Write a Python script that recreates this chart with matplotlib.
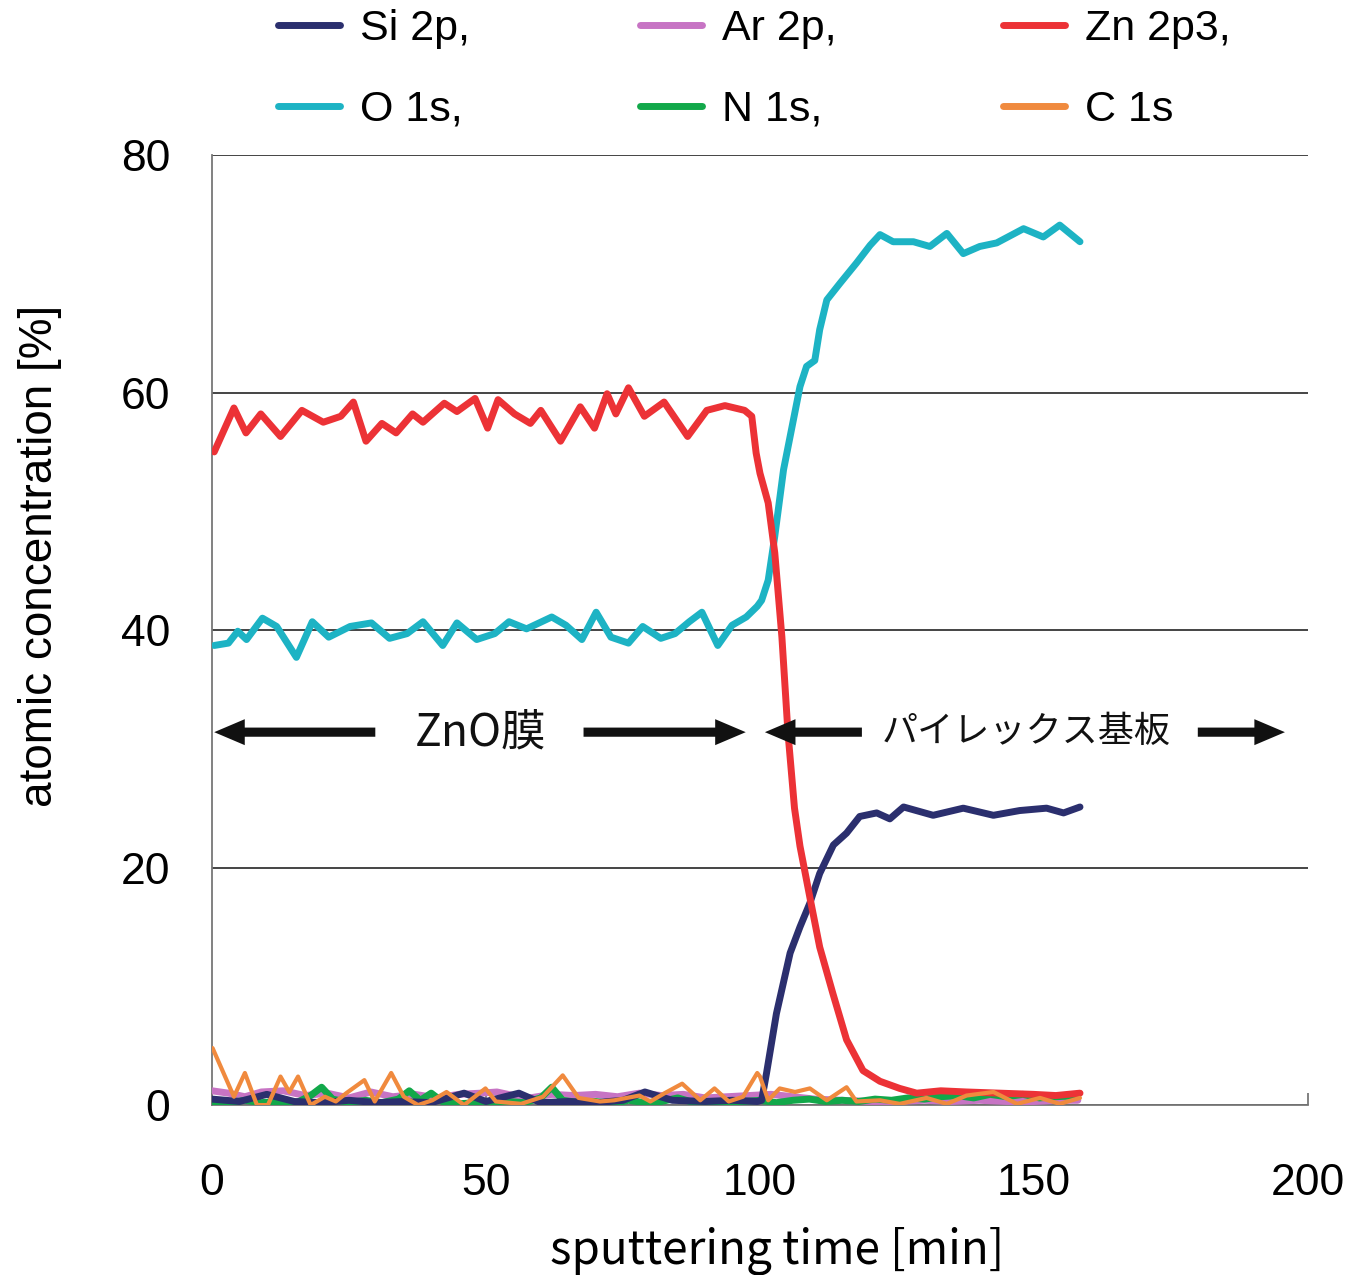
import matplotlib as mpl
mpl.use('Agg')
from matplotlib import pyplot as plt

# --- データ ---
# Zn 2p3
zn_t = [0.4, 4.0, 6.2, 8.9, 12.5, 16.4, 20.3, 23.5, 25.8, 28.1, 31.0, 33.6, 36.6, 38.5,
        42.4, 44.7, 48.0, 50.3, 52.2, 55.2, 58.1, 60.0, 63.6, 67.2, 69.8, 72.1, 73.7,
        76.0, 78.9, 82.5, 86.8, 90.3, 93.6, 97.2, 98.5, 99.3, 100.0, 101.5, 102.7, 104.0,
        105.1, 106.3, 107.3, 109.1, 110.9, 113.3, 115.8, 118.8, 121.9, 125.5, 128.6,
        133.0, 137.7, 143.8, 149.9, 154.0, 158.4]
zn_v = [55.0, 58.7, 56.6, 58.2, 56.3, 58.5, 57.5, 58.0, 59.2, 55.9, 57.4, 56.6, 58.2, 57.5,
        59.1, 58.4, 59.5, 57.0, 59.4, 58.2, 57.4, 58.5, 55.9, 58.8, 57.0, 59.9, 58.2,
        60.4, 58.0, 59.2, 56.3, 58.5, 58.9, 58.5, 58.0, 54.9, 53.2, 50.7, 46.5, 39.4,
        31.4, 25.0, 21.8, 17.5, 13.3, 9.4, 5.5, 2.9, 2.0, 1.4, 1.0,
        1.2, 1.1, 1.0, 0.9, 0.8, 1.0]

# O 1s
o_t = [0.4, 3.0, 4.7, 6.3, 9.2, 11.8, 15.4, 18.3, 21.3, 25.2, 29.1, 32.4, 35.6, 38.5,
       42.1, 44.7, 48.3, 51.6, 54.2, 57.4, 62.0, 64.6, 67.5, 70.1, 72.8, 76.0, 78.6,
       81.9, 84.5, 87.1, 89.4, 92.3, 94.9, 97.5, 99.5, 100.3, 101.5, 102.7, 104.3,
       106.1, 107.3, 108.5, 110.0, 110.9, 112.2, 114.6, 117.6, 120.1, 121.9, 124.3,
       128.0, 131.0, 134.1, 137.1, 140.1, 143.2, 148.1, 151.7, 154.7, 158.4]
o_v = [38.7, 38.9, 39.9, 39.2, 41.0, 40.3, 37.7, 40.7, 39.4, 40.3, 40.6, 39.3, 39.7, 40.7,
       38.7, 40.6, 39.2, 39.7, 40.7, 40.1, 41.1, 40.4, 39.2, 41.5, 39.4, 38.9, 40.3,
       39.3, 39.7, 40.7, 41.5, 38.7, 40.4, 41.1, 42.0, 42.5, 44.2, 47.9, 53.5,
       57.7, 60.5, 62.2, 62.7, 65.3, 67.8, 69.2, 70.9, 72.4, 73.3, 72.7,
       72.7, 72.3, 73.4, 71.7, 72.3, 72.6, 73.8, 73.1, 74.1, 72.7]

# Si 2p
si_t = [0, 5, 10, 15, 20, 25, 30, 35, 40, 46, 50, 56, 60, 65, 70, 75, 79, 84, 90, 95, 99.5,
        100.3, 101.2, 103.0, 105.5, 107.3, 109.1, 110.9, 113.4, 115.8, 118.2, 121.3,
        123.7, 126.2, 131.6, 137.1, 142.6, 147.4, 152.3, 155.4, 158.4]
si_v = [0.5, 0.3, 0.9, 0.3, 0.2, 0.4, 0.2, 0.3, 0.2, 1.0, 0.3, 1.0, 0.2, 0.3, 0.2, 0.4, 1.1,
        0.4, 0.3, 0.4, 0.3,
        0.4, 2.7, 7.7, 12.8, 15.0, 17.0, 19.5, 21.9, 22.9, 24.3, 24.6,
        24.1, 25.1, 24.4, 25.0, 24.4, 24.8, 25.0, 24.6, 25.1]

# Ar 2p
ar_t = [0, 3, 6, 9, 13, 17, 21, 25, 29, 33, 37, 41, 45, 49, 52, 55, 58, 62, 66, 70, 74, 78,
        82, 86, 90, 94, 98, 102, 106, 110, 115, 120, 125, 130, 135, 140, 145, 150, 155, 158]
ar_v = [1.2, 1.0, 0.7, 1.1, 1.2, 0.8, 1.0, 0.6, 1.1, 0.7, 0.9, 0.6, 0.9, 1.0, 1.1, 0.8, 0.6,
        0.9, 0.8, 0.9, 0.7, 1.0, 0.8, 0.9, 0.6, 0.7, 0.8, 0.9, 0.7, 0.5, 0.4, 0.3, 0.3, 0.4,
        0.3, 0.4, 0.3, 0.3, 0.4, 0.4]

# N 1s
n_t = [0, 3, 6, 9, 12, 15, 18, 20, 22, 25, 28, 31, 34, 36, 38, 40, 42, 45, 48, 51, 54, 57,
       60, 62, 64, 67, 70, 73, 76, 79, 82, 85, 88, 91, 94, 97, 100, 103, 106, 109, 112,
       115, 118, 121, 124, 127, 130, 133, 136, 139, 142, 145, 148, 151, 154, 158]
n_v = [0.3, 0.2, 0.4, 0.2, 0.3, 0.1, 0.8, 1.5, 0.5, 0.2, 0.4, 0.2, 0.5, 1.2, 0.4, 1.0, 0.3,
       0.1, 0.2, 0.1, 0.3, 0.2, 0.6, 1.5, 0.4, 0.2, 0.3, 0.1, 0.4, 0.2, 0.3, 0.6, 0.2, 0.3,
       0.1, 0.3, 0.4, 0.2, 0.4, 0.5, 0.3, 0.4, 0.3, 0.5, 0.4, 0.6, 0.5, 0.7, 0.8, 0.6, 0.9,
       0.7, 0.9, 0.6, 0.7, 0.8]

# C 1s
c_t = [0.1, 4.0, 6.0, 8.2, 10.2, 12.5, 14.1, 15.7, 18.0, 20.6, 22.6, 24.5, 27.8, 29.7, 32.7,
       35.0, 37.6, 40.2, 42.8, 46.0, 49.9, 51.8, 56.4, 60.4, 64.0, 66.9, 70.8, 73.4, 78.0,
       80.0, 82.6, 85.8, 89.1, 91.7, 94.3, 96.9, 99.5, 100.0, 101.5, 103.6, 106.4, 109.1,
       112.2, 115.8, 117.6, 121.9, 125.5, 130.4, 134.1, 137.7, 142.6, 146.9, 151.1,
       154.7, 158.4]
c_v = [4.8, 0.7, 2.7, 0.0, 0.0, 2.4, 1.1, 2.4, 0.0, 0.7, 0.3, 1.0, 2.1, 0.3, 2.7,
       0.7, 0.0, 0.4, 1.1, 0.0, 1.4, 0.3, 0.1, 0.7, 2.5, 0.6, 0.3, 0.4, 0.8,
       0.3, 1.0, 1.8, 0.4, 1.4, 0.3, 0.7, 2.7, 2.4, 0.4, 1.4, 1.1, 1.4,
       0.4, 1.5, 0.3, 0.4, 0.1, 0.6, 0.1, 0.8, 1.1, 0.1, 0.6, 0.1, 0.6]

labels = ['Si 2p,', 'Ar 2p,', 'Zn 2p3,', 'O 1s,', 'N 1s,', 'C 1s']
colors = ['#2b2f6e', '#c774c4', '#ec3236', '#1db3c4', '#12a84a', '#f08a3e']
widths = [5, 5, 5, 5, 5, 3]

fig = plt.figure(figsize=(13.53, 12.75), dpi=100)
ax = fig.add_axes([0.1567, 0.1333, 0.81, 0.7451])

series = [(si_t, si_v), (ar_t, ar_v), (zn_t, zn_v), (o_t, o_v), (n_t, n_v), (c_t, c_v)]
draw_order = [1, 4, 0, 3, 2, 5]
handles = [None] * 6
for i in draw_order:
    t, v = series[i]
    ln, = ax.plot(t, v, color=colors[i], lw=widths[i], solid_joinstyle='round',
                  solid_capstyle='round', label=labels[i], zorder=3)
    handles[i] = ln

ax.set_xlim(0, 200)
ax.set_ylim(0, 80)
ax.set_xticks([0, 50, 100, 150, 200])
ax.set_yticks([0, 20, 40, 60, 80])
ax.yaxis.grid(True, color='#444444', lw=1.4)
ax.set_axisbelow(True)
for s in ['top', 'right']:
    ax.spines[s].set_visible(False)
ax.spines['left'].set_color('#777777')
ax.spines['bottom'].set_color('#777777')
ax.spines['left'].set_linewidth(1.3)
ax.spines['bottom'].set_linewidth(1.3)
ax.tick_params(axis='x', direction='in', length=9, color='#777777', width=1.3,
               labelsize=32, pad=42)
ax.tick_params(axis='y', length=0, labelsize=32, pad=30)
for lab in ax.get_xticklabels() + ax.get_yticklabels():
    lab.set_fontfamily('Liberation Sans')

ax.set_ylabel('atomic concentration [%]', fontsize=33, family='Liberation Sans')
ax.yaxis.set_label_coords(-0.137, 0.578)
ax.set_xlabel('sputtering time [min]', fontsize=33, family='Noto Sans CJK JP')
ax.xaxis.set_label_coords(0.516, -0.128)

# 凡例（3列、列ごとに1つ）
col_x = [278, 640, 1003]
for j in range(3):
    hs = [handles[j], handles[j + 3]]
    ls = [labels[j], labels[j + 3]]
    leg = fig.legend(hs, ls, loc='upper left', bbox_to_anchor=(col_x[j] / 1353, 0.993),
                     frameon=False, prop={'family': 'Liberation Sans', 'size': 31},
                     handlelength=1.45, handletextpad=0.45, labelspacing=0.95,
                     borderpad=0, borderaxespad=0)
    for h in leg.get_lines():
        h.set_linewidth(5)
        h.set_solid_capstyle('round')

# 注釈（矢印と文字）
ap = dict(arrowstyle='simple,head_length=1.0,head_width=0.85,tail_width=0.3',
          mutation_scale=22, lw=0, color='#111111', shrinkA=0, shrinkB=0)
y_ann = 31.4
ax.annotate('', xy=(0.4, y_ann), xytext=(29.8, y_ann), arrowprops=ap)
ax.annotate('', xy=(97.4, y_ann), xytext=(67.8, y_ann), arrowprops=ap)
ax.annotate('', xy=(100.9, y_ann), xytext=(118.6, y_ann), arrowprops=ap)
ax.annotate('', xy=(195.8, y_ann), xytext=(179.9, y_ann), arrowprops=ap)
ax.text(49.0, y_ann, 'ZnO膜', fontsize=32, family='Noto Sans CJK JP', ha='center',
        va='center', color='#111111')
ax.text(148.5, y_ann, 'パイレックス基板', fontsize=26, family='Noto Sans CJK JP',
        ha='center', va='center', color='#111111')

plt.savefig('out.png', dpi=100)
plt.close()
